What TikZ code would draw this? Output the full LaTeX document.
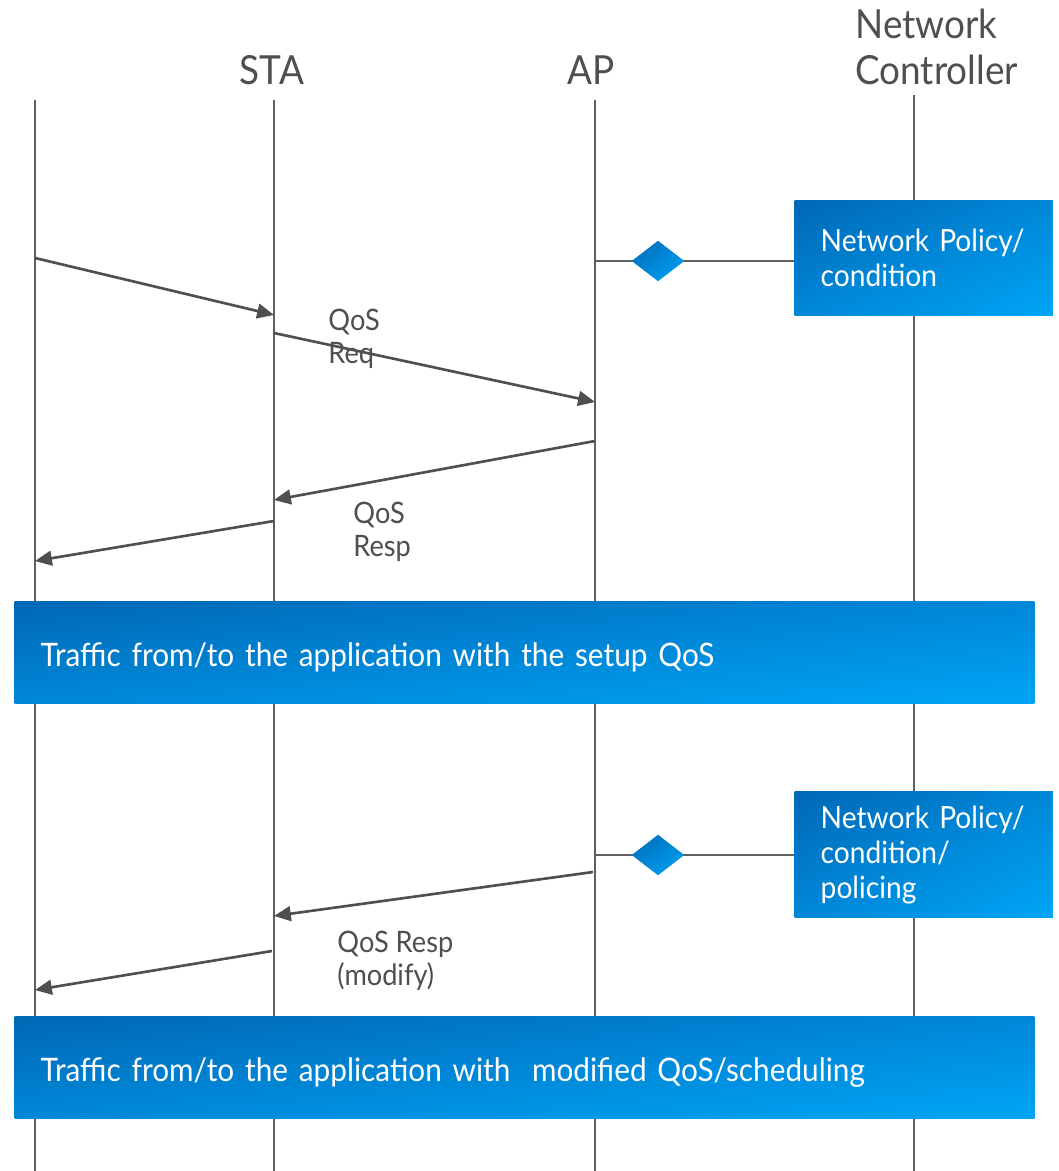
\documentclass[tikz,border=0pt]{standalone}
\usepackage{fontspec}
\setmainfont{Lato}[FakeStretch=0.92]
\usetikzlibrary{shapes.geometric,shadings,arrows.meta}

\definecolor{darkblue}{HTML}{0068B5}
\definecolor{midblue}{HTML}{0087D8}
\definecolor{lightblue}{HTML}{00A5F6}
\definecolor{linegray}{HTML}{5F5F5F}
\definecolor{textgray}{HTML}{4F4F4F}

\tikzset{
  lifeline/.style={draw=linegray, line width=0.5pt},
  msg/.style={draw=textgray, line width=0.75pt, -{Triangle[length=4.8pt,width=4.2pt]}},
  blueshade/.style={upper left=darkblue, upper right=midblue, lower left=midblue, lower right=lightblue},
  policybox/.style={blueshade, anchor=north west, text width=2.06cm, inner xsep=0.26cm,
    text=white, align=left, font=\fontsize{8.7}{10}\selectfont},
  trafficbox/.style={blueshade, anchor=north west, minimum width=10.19cm, minimum height=1.02cm,
    inner xsep=0.26cm, text=white, text width=9.67cm, align=left, text height=9.7pt, text depth=2pt,
    font=\fontsize{9.2}{11}\selectfont},
  decision/.style={diamond, blueshade, minimum width=0.53cm, minimum height=0.41cm, inner sep=0pt},
  header/.style={text=textgray, font=\fontsize{11.4}{13}\selectfont, align=left},
  msglabel/.style={text=textgray, font=\fontsize{8.4}{9.4}\selectfont, align=left, anchor=west}
}

\begin{document}
\begin{tikzpicture}[x=0.01cm, y=-0.01cm]
    \useasboundingbox (0,0) rectangle (1058,1171);

    % Headers
    \node[header] (sta) at (272,70) {STA};
    \node[header] (ap) at (591,70) {AP};
    \node[header, anchor=west] (nc) at (843,47) {Network\\Controller};

    % Lifelines
    \draw[lifeline] (35,100) -- (35,1171);
    \draw[lifeline] (274,100) -- (274,1171);
    \draw[lifeline] (595,100) -- (595,1171);
    \draw[lifeline] (914,95) -- (914,1171);

    % Points on the lifelines
    \coordinate (m1a) at (35,258);   \coordinate (m1b) at (274,315);
    \coordinate (m2a) at (274,333);  \coordinate (m2b) at (595,402);
    \coordinate (m3a) at (595,441);  \coordinate (m3b) at (274,500);
    \coordinate (m4a) at (274,521);  \coordinate (m4b) at (35,561);
    \coordinate (m5a) at (593,872);  \coordinate (m5b) at (274,916);
    \coordinate (m6a) at (272,951);  \coordinate (m6b) at (35,990);
    \coordinate (ap1) at (595,261);  \coordinate (ap2) at (595,855);

    % Policy boxes and decisions
    \node[policybox, minimum height=1.15cm] (pol1) at (794,200) {Network Policy/\\condition};
    \node[policybox, minimum height=1.26cm] (pol2) at (794,791) {Network Policy/\\condition/\\policing};
    \draw[lifeline, line width=0.75pt] (ap1) -- (pol1.west |- ap1);
    \draw[lifeline, line width=0.75pt] (ap2) -- (pol2.west |- ap2);
    \node[decision] (dec1) at (658,261) {};
    \node[decision] (dec2) at (658,855) {};

    % Messages
    \draw[msg] (m1a) -- (m1b);
    \draw[msg] (m2a) -- (m2b);
    \draw[msg] (m3a) -- (m3b);
    \draw[msg] (m4a) -- (m4b);
    \draw[msg] (m5a) -- (m5b);
    \draw[msg] (m6a) -- (m6b);
    \node[msglabel] (req) at (316,339) {QoS\\Req};
    \node[msglabel] (resp) at (341,532) {QoS\\Resp};
    \node[msglabel] (mod) at (325,961) {QoS Resp\\(modify)};

    % Traffic boxes
    \node[trafficbox] (tr1) at (14,601) {Traffic from/to the application with the setup QoS};
    \node[trafficbox] (tr2) at (14,1016) {Traffic from/to the application with\ \ modified QoS/scheduling};
\end{tikzpicture}
\end{document}
